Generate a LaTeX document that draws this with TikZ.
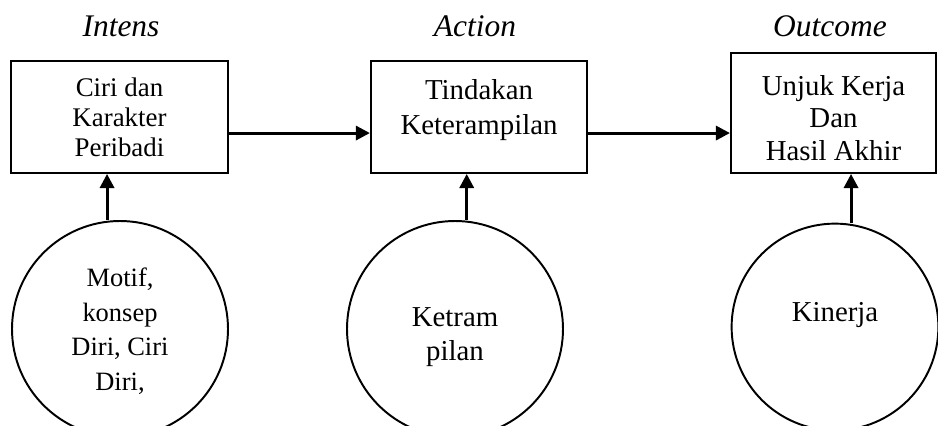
\documentclass[tikz,border=0pt]{standalone}
\usepackage{fontspec}
\setmainfont{Liberation Serif}
\usetikzlibrary{arrows.meta}
% teks digeser tanpa mengubah ukuran kotak
\newcommand{\geser}[2]{\raisebox{#1}[\height][\depth]{\begin{tabular}{@{}c@{}}#2\end{tabular}}}

\begin{document}
\begin{tikzpicture}[x=0.0162cm, y=-0.0162cm,
  kotak/.style={draw, line width=1pt, inner sep=0pt, font=\fontsize{13.3}{15}\selectfont},
  bulat/.style={draw, circle, line width=0.9pt, inner sep=0pt, font=\fontsize{13.3}{16}\selectfont},
  judul/.style={font=\fontsize{14.5}{16}\selectfont\itshape},
  panah/.style={line width=1.4pt, -{Triangle[length=6.5pt,width=6.5pt]}}]
\useasboundingbox (0,0) rectangle (938,425);
% judul
\node[judul] (t1) at (121,26) {Intens};
\node[judul] (t2) at (475,26) {Action};
\node[judul] (t3) at (830,26) {Outcome};
% kotak
\node[kotak, minimum width=3.52cm, minimum height=1.81cm, font=\fontsize{12.4}{13.8}\selectfont] (b1) at (119.5,117) {\geser{-1.6pt}{Ciri dan\\Karakter\\Peribadi}};
\node[kotak, minimum width=3.50cm, minimum height=1.81cm, font=\fontsize{13.3}{16}\selectfont] (b2) at (479,117) {\geser{3.2pt}{Tindakan\\Keterampilan}};
\node[kotak, minimum width=3.32cm, minimum height=1.94cm] (b3) at (833.5,113) {\geser{-3.7pt}{Unjuk Kerja\\Dan\\Hasil Akhir}};
% lingkaran
\node[bulat, minimum size=3.50cm, font=\fontsize{12.2}{16}\selectfont] (k1) at (120,329) {\geser{-1.2pt}{Motif,\\konsep\\Diri, Ciri\\Diri,}};
\node[bulat, minimum size=3.50cm] (k2) at (455,329) {\geser{-3.5pt}{Ketram\\pilan}};
\node[bulat, minimum size=3.35cm] (k3) at (835,327) {\geser{5.6pt}{Kinerja}};
% panah
\draw[panah] ([yshift=-0.26cm]b1.east) -- ([yshift=-0.26cm]b1.east -| b2.west);
\draw[panah] ([yshift=-0.26cm]b2.east) -- ([yshift=-0.26cm]b2.east -| b3.west);
\draw[panah] ([xshift=-0.21cm]k1.north) -- ([xshift=-0.21cm]k1.north |- b1.south);
\draw[panah] ([xshift=0.19cm]k2.north) -- ([xshift=0.19cm]k2.north |- b2.south);
\draw[panah] ([xshift=0.26cm]k3.north) -- ([xshift=0.26cm]k3.north |- b3.south);
\end{tikzpicture}
\end{document}
